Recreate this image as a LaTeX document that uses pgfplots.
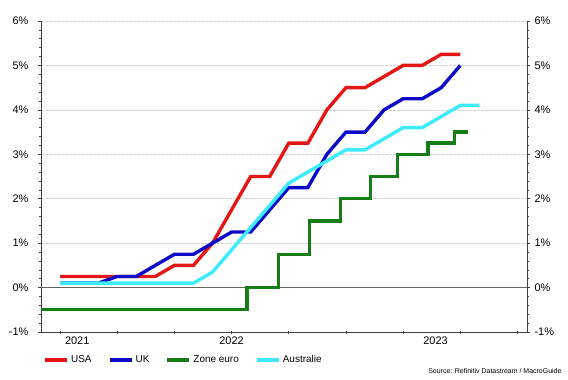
\documentclass[border=0pt]{standalone}
\usepackage{pgfplots}
\pgfplotsset{compat=1.18}
\usepackage{fontspec}
\setmainfont{Liberation Sans}
\definecolor{cusa}{RGB}{228,22,22}
\definecolor{cuk}{RGB}{12,12,200}
\definecolor{ceur}{RGB}{22,125,22}
\definecolor{caus}{RGB}{60,236,250}
\definecolor{gridc}{RGB}{210,210,210}
\begin{document}
\begin{tikzpicture}[x=1bp,y=1bp]
\useasboundingbox (0,0) rectangle (568,379);
\begin{axis}[
  at={(41bp,47bp)}, anchor=south west,
  scale only axis, width=486bp, height=311bp,
  xmin=-1, xmax=24.5, ymin=-1, ymax=6,
  axis x line*=bottom, axis y line*=left,
  axis line style={black!75, line width=0.8pt},
  tick align=outside,
  tick style={black!75, line width=0.6pt},
  major tick length=3bp, minor tick length=1.8bp,
  xtick={0,3,...,24}, xticklabels={},
  x tick style={yshift=1.2bp},
  extra x ticks={0.9,9,19.7},
  extra x tick labels={2021,2022,2023},
  extra x tick style={major tick length=0pt, xticklabel style={yshift=-1bp}},
  ytick={-1,0,...,6}, minor y tick num=4,
  yticklabel={\pgfmathprintnumber{\tick}\%},
  /pgf/number format/assume math mode=true,
  yticklabel style={xshift=-6bp},
  ymajorgrids, major grid style={gridc, dash pattern=on 3bp off 1bp, line width=0.6pt},
  extra y ticks={0}, extra y tick labels={},
  extra y tick style={major tick length=0pt, major grid style={solid, black!60, line width=0.8pt}},
  ticklabel style={font=\fontsize{11}{13}\selectfont},
  every axis plot/.append style={line width=3.4bp},
  legend image code/.code={\draw[#1, line width=4bp] (0bp,0bp) -- (22bp,0bp);},
  legend style={at={(axis description cs:0.004,-0.09)}, anchor=west,
    legend columns=4, draw=none, fill=none, inner sep=0pt,
    font=\fontsize{10}{12}\selectfont,
    /tikz/every even column/.append style={column sep=14bp}},
  legend cell align=left,
]
\addplot[cusa] coordinates {
(0,0.25) (1,0.25) (2,0.25) (3,0.25) (4,0.25) (5,0.25) (6,0.5) (7,0.5)
(8,1.0) (9,1.75) (10,2.5) (11,2.5) (12,3.25) (13,3.25) (14,4.0) (15,4.5)
(16,4.5) (17,4.75) (18,5.0) (19,5.0) (20,5.25) (21,5.25)};
\addlegendentry{USA}
\addplot[cuk] coordinates {
(0,0.1) (1,0.1) (2,0.1) (3,0.25) (4,0.25) (5,0.5) (6,0.75) (7,0.75)
(8,1.0) (9,1.25) (10,1.25) (11,1.75) (12,2.25) (13,2.25) (14,3.0) (15,3.5)
(16,3.5) (17,4.0) (18,4.25) (19,4.25) (20,4.5) (21,5.0)};
\addlegendentry{UK}
\addplot[ceur, const plot] coordinates {
(-1,-0.5) (9.8,0) (11.45,0.75) (13.1,1.5) (14.7,2.0) (16.3,2.5) (17.7,3.0)
(19.3,3.25) (20.7,3.5) (21.4,3.5)};
\addlegendentry{Zone euro}
\addplot[caus] coordinates {
(0,0.1) (1,0.1) (2,0.1) (3,0.1) (4,0.1) (5,0.1) (6,0.1) (7,0.1)
(8,0.35) (9,0.85) (10,1.35) (11,1.85) (12,2.35) (13,2.6) (14,2.85) (15,3.1)
(16,3.1) (17,3.35) (18,3.6) (19,3.6) (20,3.85) (21,4.1) (22,4.1)};
\addlegendentry{Australie}
\end{axis}
\begin{axis}[
  at={(41bp,47bp)}, anchor=south west,
  scale only axis, width=486bp, height=311bp,
  xmin=-1, xmax=24.5, ymin=-1, ymax=6,
  axis x line=none, axis y line*=right,
  axis line style={black!75, line width=0.8pt},
  tick align=outside,
  tick style={black!75, line width=0.6pt},
  major tick length=3bp, minor tick length=1.8bp,
  ytick={-1,0,...,6}, minor y tick num=4,
  yticklabel={\pgfmathprintnumber{\tick}\%},
  /pgf/number format/assume math mode=true,
  yticklabel style={xshift=1bp},
  ticklabel style={font=\fontsize{11}{13}\selectfont},
]
\end{axis}
\node[anchor=base east, font=\fontsize{7}{8}\selectfont] at (565,6) {Source: Refinitiv Datastream / MacroGuide};
\end{tikzpicture}
\end{document}
